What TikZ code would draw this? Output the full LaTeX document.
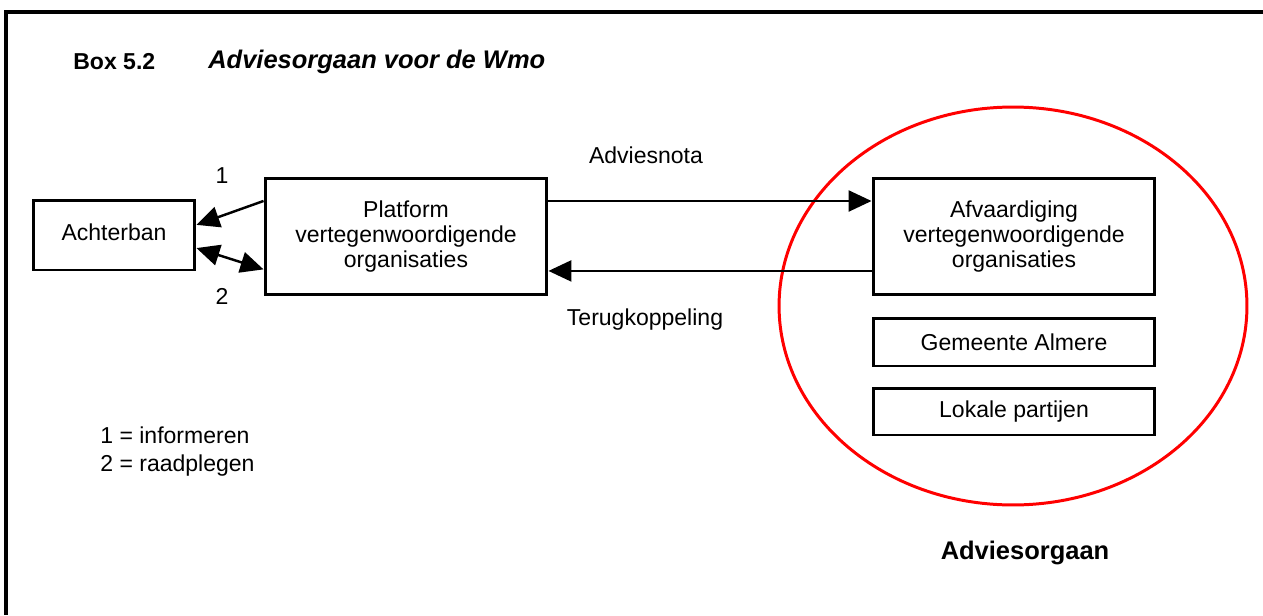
\documentclass[tikz,border=0pt]{standalone}
\usepackage{fontspec}
\setmainfont{Liberation Sans}
\usetikzlibrary{arrows.meta,shapes.geometric}
\tikzset{
  flowarrow/.style={-{Triangle[length=0.46cm, width=0.42cm]}, line width=1.4pt},
  twoarrow/.style={{Triangle[length=0.46cm, width=0.42cm]}-{Triangle[length=0.46cm, width=0.42cm]}, line width=1.4pt},
  partybox/.style={draw, line width=1.7pt, minimum width=5.64cm, align=center},
  sidebox/.style={draw, line width=1.7pt, minimum width=3.24cm, minimum height=1.4cm, align=center},
  relabel/.style={inner sep=0pt, align=center},
  biglabel/.style={inner sep=0pt, font=\fontsize{14.5}{16}\selectfont\bfseries},
  frameline/.style={line width=2pt}
}

\begin{document}
\begin{tikzpicture}[x=0.02cm, y=-0.02cm, every node/.style={font=\fontsize{13.1}{14.3}\selectfont}]
  \useasboundingbox (0,0) rectangle (1263,615);
  % frame (only top and left edge are in view)
  \coordinate (ftop) at (6,12);
  \coordinate (fright) at (1263,12);
  \coordinate (fbottom) at (6,615);
  \draw[frameline] (fright) -- (ftop) -- (fbottom);

  \node[relabel, anchor=west, font=\fontsize{13.1}{14.3}\selectfont\bfseries] (boxnr) at (73,62) {Box 5.2};
  \node[biglabel, anchor=west, font=\fontsize{14.5}{16}\selectfont\bfseries\itshape] (title) at (208,62) {Adviesorgaan voor de Wmo};

  % the advisory body
  \node[draw=red, line width=1.7pt, ellipse, minimum width=9.36cm, minimum height=7.96cm] (orgaan) at (1013,306) {};
  \node[biglabel] (orgaanlbl) at (1025,553) {Adviesorgaan};

  \node[sidebox] (achter) at (114,235) {\raisebox{3pt}{Achterban}};
  \node[partybox, minimum height=2.34cm] (plat) at (406,236.5) {Platform\\ vertegenwoordigende\\ organisaties};
  \node[partybox, minimum height=2.34cm] (afv) at (1014,236.5) {Afvaardiging\\ vertegenwoordigende\\ organisaties};
  \node[partybox, minimum height=0.96cm] (gem) at (1014,342) {Gemeente Almere};
  \node[partybox, minimum height=0.94cm] (lok) at (1014,411.5) {Lokale partijen};

  \draw[flowarrow] ([yshift=20.2pt]plat.east) -- ([yshift=20.2pt]afv.west);
  \draw[flowarrow] ([yshift=-19.6pt]afv.west) -- ([yshift=-19.6pt]plat.east);
  \node[relabel] (nota) at (646,155) {Adviesnota};
  \node[relabel] (terug) at (645,320) {Terugkoppeling};

  \draw[flowarrow] (plat.166.2) -- (achter.7.7);
  \draw[twoarrow] (achter.-9.1) -- (plat.193.8);
  \node[relabel] (een) at (222,176) {1};
  \node[relabel] (twee) at (222,296) {2};

  \node[relabel, anchor=north west, align=left, font=\fontsize{13.1}{16}\selectfont] (legend) at (100,426) {1 = informeren\\ 2 = raadplegen};
\end{tikzpicture}
\end{document}
